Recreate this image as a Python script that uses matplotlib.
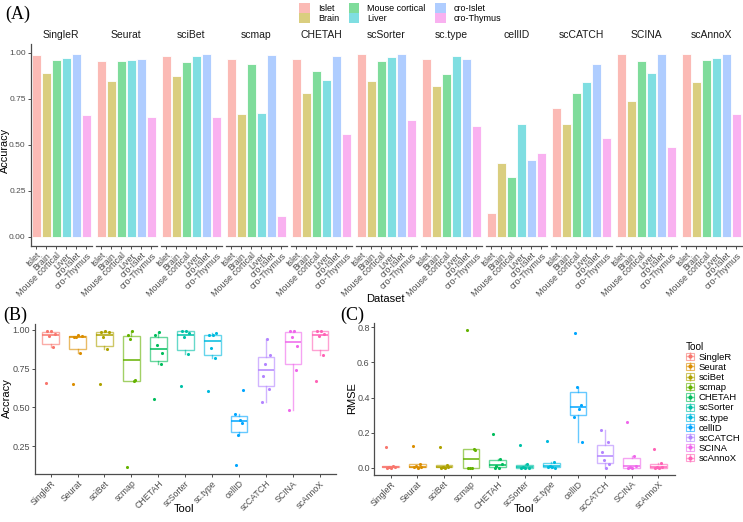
import numpy as np
import matplotlib
matplotlib.use('Agg')
from matplotlib import pyplot as plt
from matplotlib.patches import Patch
from matplotlib.lines import Line2D
from matplotlib.colors import to_rgba

plt.rcParams['font.family'] = ['Liberation Sans', 'DejaVu Sans']

tools = ['SingleR', 'Seurat', 'sciBet', 'scmap', 'CHETAH', 'scSorter',
         'sc.type', 'cellID', 'scCATCH', 'SCINA', 'scAnnoX']
datasets = ['Islet', 'Brain', 'Mouse cortical', 'Liver', 'cro-Islet', 'cro-Thymus']

# accuracy, one list per dataset, values in tool order
acc_islet = [0.99, 0.955, 0.985, 0.965, 0.968, 0.995, 0.968, 0.127, 0.70, 0.995, 0.995]
acc_brain = [0.89, 0.848, 0.877, 0.668, 0.78, 0.845, 0.82, 0.40, 0.616, 0.74, 0.84]
acc_mouse = [0.963, 0.955, 0.952, 0.938, 0.902, 0.955, 0.884, 0.325, 0.78, 0.955, 0.962]
acc_liver = [0.975, 0.962, 0.985, 0.675, 0.852, 0.98, 0.982, 0.615, 0.84, 0.893, 0.975]
acc_croislet = [0.995, 0.965, 0.995, 0.99, 0.985, 0.995, 0.965, 0.42, 0.942, 0.995, 0.995]
acc_crothymus = [0.66, 0.652, 0.652, 0.115, 0.557, 0.636, 0.605, 0.456, 0.536, 0.486, 0.668]

# RMSE, one list per dataset, values in tool order
rmse_islet = [0.001, 0.002, 0.001, 0.0, 0.0, 0.0, 0.005, 0.766, 0.088, 0.0, 0.0]
rmse_brain = [0.008, 0.022, 0.016, 0.107, 0.048, 0.022, 0.032, 0.358, 0.145, 0.069, 0.025]
rmse_mouse = [0.004, 0.008, 0.006, 0.0, 0.01, 0.003, 0.012, 0.459, 0.046, 0.004, 0.006]
rmse_liver = [0.003, 0.003, 0.002, 0.10, 0.022, 0.001, 0.0, 0.147, 0.023, 0.011, 0.002]
rmse_croislet = [0.0, 0.0, 0.0, 0.0, 0.0, 0.0, 0.004, 0.333, 0.0, 0.0, 0.0]
rmse_crothymus = [0.118, 0.124, 0.12, 0.787, 0.194, 0.13, 0.154, 0.291, 0.213, 0.263, 0.107]

acc = np.array([acc_islet, acc_brain, acc_mouse, acc_liver, acc_croislet, acc_crothymus])
rmse = np.array([rmse_islet, rmse_brain, rmse_mouse, rmse_liver, rmse_croislet, rmse_crothymus])

ds_colors = ['#F8766D', '#B79F00', '#00BA38', '#00BFC4', '#619CFF', '#F564E3']
tool_colors = ['#F8766D', '#DB8E00', '#AEA200', '#64B200', '#00BD5C', '#00C1A7',
               '#00BADE', '#00A6FF', '#B385FF', '#EF67EB', '#FF63B6']
jitter = [-0.12, 0.1, -0.05, 0.15, 0.03, -0.16]

W, H = 743, 522
AX = '#4D4D4D'


def px(l, t, r, b):
    return [l / W, 1 - b / H, (r - l) / W, (b - t) / H]


def classic(ax, size=6.4):
    for s in ['top', 'right']:
        ax.spines[s].set_visible(False)
    for s in ['left', 'bottom']:
        ax.spines[s].set_color(AX)
        ax.spines[s].set_linewidth(0.9)
    ax.tick_params(colors=AX, labelcolor=AX, length=2.5, width=0.7, labelsize=size, pad=1)


def ftext(x, y, s, **kw):
    fig.text(x / W, 1 - y / H, s, ha='center', va='center', **kw)


fig = plt.figure(figsize=(W / 100, H / 100), dpi=100)

# ---------- (A) ----------
x = np.arange(1, 7)
for k, tool in enumerate(tools):
    l = 30.6 + 65.0 * k
    ax = fig.add_axes(px(l, 43.8, l + 61.2, 246))
    ax.bar(x, acc[:, k], width=0.9, color=[to_rgba(c, 0.5) for c in ds_colors],
           edgecolor='white', linewidth=0.6)
    ax.set_xlim(0.45, 6.55)
    ax.set_ylim(-0.05, 1.05)
    classic(ax, 6.0)
    ax.set_xticks(x)
    ax.set_xticklabels(datasets, rotation=45, ha='right', va='top',
                       rotation_mode='anchor', fontsize=6.4)
    ax.set_title(tool, fontsize=7.5, pad=4, color='#1A1A1A')
    if k == 0:
        ax.set_yticks([0, 0.25, 0.5, 0.75, 1.0])
        ax.set_yticklabels(['0.00', '0.25', '0.50', '0.75', '1.00'])
    else:
        ax.spines['left'].set_visible(False)
        ax.set_yticks([])

ftext(5.0, 150, 'Accuracy', rotation=90, fontsize=7.8)
ftext(385, 299, 'Dataset', fontsize=8)
fig.text(5 / W, 1 - 14 / H, '(A)', family='Liberation Serif', fontsize=13,
         ha='left', va='center')

handles = [Patch(facecolor=to_rgba(c, 0.5), edgecolor='none') for c in ds_colors]
fig.legend(handles, datasets, ncol=3, loc='upper left',
           bbox_to_anchor=(294 / W, 1.005), frameon=False, fontsize=6.5,
           handlelength=1.2, handleheight=1.3, handletextpad=0.9,
           columnspacing=1.0, labelspacing=0.05, borderpad=0.1)


def boxpanel(ax, data):
    for k in range(len(tools)):
        c = tool_colors[k]
        v = data[:, k]
        ax.boxplot([v], positions=[k + 1], widths=0.62, showfliers=False,
                   patch_artist=True,
                   boxprops=dict(facecolor='white', edgecolor=to_rgba(c, 0.6), linewidth=1),
                   whiskerprops=dict(color=to_rgba(c, 0.6), linewidth=1),
                   capprops=dict(linewidth=0),
                   medianprops=dict(color=c, linewidth=1.1))
        ax.scatter(k + 1 + np.array(jitter[:len(v)]), v, s=5, color=c, zorder=3,
                   linewidths=0)
    ax.set_xlim(0.4, len(tools) + 0.6)
    lo, hi = data.min(), data.max()
    pad = 0.05 * (hi - lo)
    ax.set_ylim(lo - pad, hi + pad)
    classic(ax, 6.5)
    ax.set_xticks(range(1, len(tools) + 1))
    ax.set_xticklabels(tools, rotation=45, ha='right', va='top',
                       rotation_mode='anchor', fontsize=6.3)


# ---------- (B) ----------
axb = fig.add_axes(px(34.5, 323.7, 336, 474))
boxpanel(axb, acc)
axb.set_yticks([0.25, 0.5, 0.75, 1.0])
axb.set_yticklabels(['0.25', '0.50', '0.75', '1.00'])
ftext(6.5, 398, 'Accracy', rotation=90, fontsize=8)
ftext(184, 509, 'Tool', fontsize=8)
fig.text(3 / W, 1 - 315 / H, '(B)', family='Liberation Serif', fontsize=13,
         ha='left', va='center')

# ---------- (C) ----------
axc = fig.add_axes(px(374.5, 322.7, 674.5, 474.6))
boxpanel(axc, rmse)
axc.set_yticks([0, 0.2, 0.4, 0.6, 0.8])
axc.set_yticklabels(['0.0', '0.2', '0.4', '0.6', '0.8'])
ftext(352, 398, 'RMSE', rotation=90, fontsize=8)
ftext(524, 509, 'Tool', fontsize=8)
fig.text(340 / W, 1 - 315 / H, '(C)', family='Liberation Serif', fontsize=13,
         ha='left', va='center')

th = [(Patch(facecolor='white', edgecolor=to_rgba(c, 0.6), linewidth=0.8),
       Line2D([], [], color=c, marker='+', markersize=6, linestyle='none', alpha=0.6),
       Line2D([], [], color=c, marker='o', markersize=2, linestyle='none'))
      for c in tool_colors]
fig.legend(th, tools, loc='upper left', bbox_to_anchor=(679 / W, 1 - 335 / H),
           frameon=False, fontsize=6.8, title='Tool', title_fontsize=7.2,
           handlelength=0.9, handleheight=0.8, handletextpad=0.5,
           labelspacing=0.12, borderpad=0.2, alignment='left')

fig.savefig('out.png', dpi=100)
